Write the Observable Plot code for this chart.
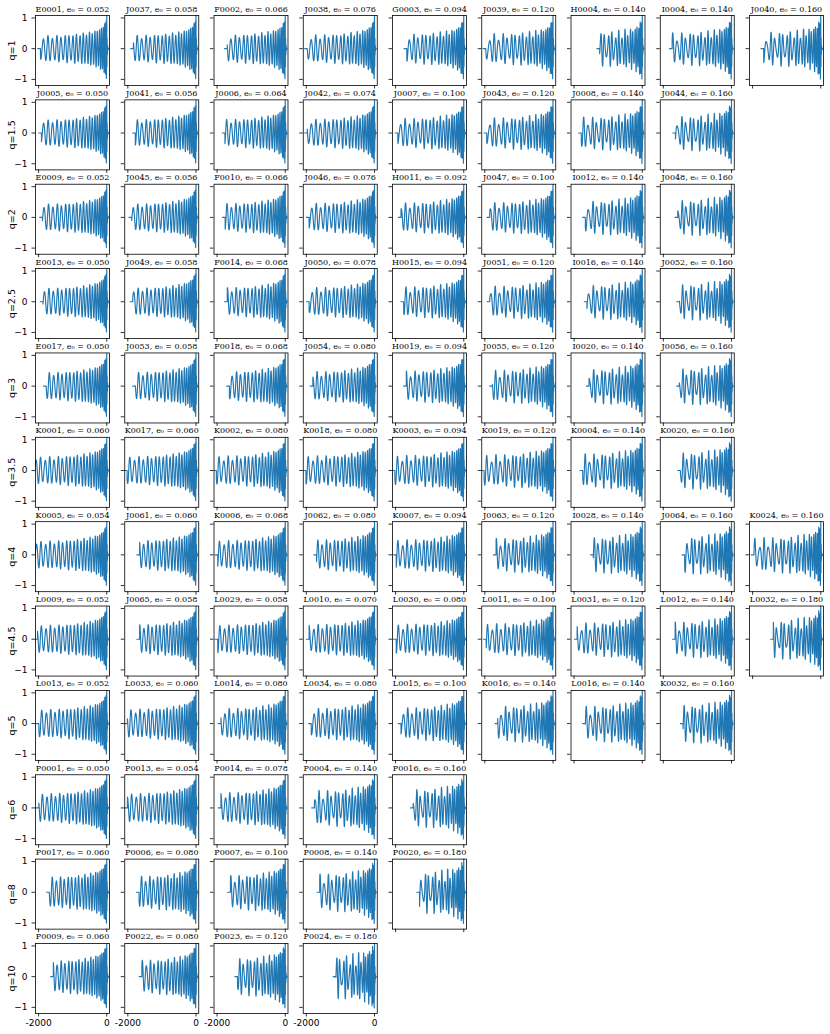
<!DOCTYPE html>
<html>
<head>
<meta charset="utf-8">
<script src="https://cdn.jsdelivr.net/npm/d3@7"></script>
<script src="https://cdn.jsdelivr.net/npm/@observablehq/plot@0.6"></script>
<style>
  html, body { margin: 0; padding: 0; background: #fff; }
  #chart svg { display: block; }
</style>
</head>
<body>
<div id="chart"></div>
<script>
// ---- data ----
const massRatios = ["1", "1.5", "2", "2.5", "3", "3.5", "4", "4.5", "5", "6", "8", "10"];

const simIds = [
  ["E0001", "J0037", "F0002", "J0038", "G0003", "J0039", "H0004", "I0004", "J0040"],
  ["J0005", "J0041", "J0006", "J0042", "J0007", "J0043", "J0008", "J0044"],
  ["E0009", "J0045", "F0010", "J0046", "H0011", "J0047", "I0012", "J0048"],
  ["E0013", "J0049", "F0014", "J0050", "H0015", "J0051", "I0016", "J0052"],
  ["E0017", "J0053", "F0018", "J0054", "H0019", "J0055", "I0020", "J0056"],
  ["K0001", "K0017", "K0002", "K0018", "K0003", "K0019", "K0004", "K0020"],
  ["K0005", "J0061", "K0006", "J0062", "K0007", "J0063", "I0028", "J0064", "K0024"],
  ["L0009", "J0065", "L0029", "L0010", "L0030", "L0011", "L0031", "L0012", "L0032"],
  ["L0013", "L0033", "L0014", "L0034", "L0015", "K0016", "L0016", "K0032"],
  ["P0001", "P0013", "P0014", "P0004", "P0016"],
  ["P0017", "P0006", "P0007", "P0008", "P0020"],
  ["P0009", "P0022", "P0023", "P0024"]
];

const ecc = [
  [0.052, 0.058, 0.066, 0.076, 0.094, 0.120, 0.140, 0.140, 0.160],
  [0.050, 0.056, 0.064, 0.074, 0.100, 0.120, 0.140, 0.160],
  [0.052, 0.056, 0.066, 0.076, 0.092, 0.100, 0.140, 0.160],
  [0.050, 0.058, 0.068, 0.078, 0.094, 0.120, 0.140, 0.160],
  [0.050, 0.058, 0.068, 0.080, 0.094, 0.120, 0.140, 0.160],
  [0.060, 0.060, 0.080, 0.080, 0.094, 0.120, 0.140, 0.160],
  [0.054, 0.060, 0.068, 0.080, 0.094, 0.120, 0.140, 0.160, 0.160],
  [0.052, 0.058, 0.058, 0.070, 0.080, 0.100, 0.120, 0.140, 0.180],
  [0.052, 0.060, 0.080, 0.080, 0.100, 0.140, 0.140, 0.160],
  [0.050, 0.054, 0.078, 0.140, 0.160],
  [0.060, 0.080, 0.100, 0.140, 0.180],
  [0.060, 0.080, 0.120, 0.180]
];

// time (M) at which each plotted waveform begins
const startTimes = [
  [-2023, -1916, -1780, -2050, -1750, -2050, -1330, -1820, -1753],
  [-1994, -1860, -1849, -2051, -2013, -2023, -1868, -1724],
  [-1966, -1966, -1842, -1997, -1920, -1935, -1749, -1656],
  [-1950, -1935, -1780, -1997, -1842, -1935, -1702, -1610],
  [-1857, -1857, -1718, -1888, -1764, -1857, -1640, -1610],
  [-2200, -2100, -2100, -2090, -2100, -2100, -1826, -1579],
  [-2200, -1733, -2060, -1780, -2060, -1749, -1516, -1454, -2040],
  [-2110, -1733, -2060, -1997, -2060, -2040, -1990, -1733, -1470],
  [-2070, -2090, -1966, -1935, -1920, -1702, -1749, -1501],
  [-2070, -2090, -1966, -1842, -1563],
  [-1764, -1749, -1687, -1687, -1377],
  [-1646, -1666, -1479, -1212]
];

const xTicks = [-2000, 0];
const yTicks = [-1, 0, 1];

// ---- waveform model (eccentric chirp + ringdown) evaluated at each panel's parameters ----
function waveform(q, e0, tStart, push) {
  const eta = q / ((1 + q) * (1 + q));
  const etaPh = 0.25 * Math.pow(eta / 0.25, 0.15);
  const flat = 80;
  const tOsc = tStart + flat;
  const tauOff = 1.9 / etaPh;
  const tauA = 28 * Math.sqrt(0.25 / eta);
  const Phi = tau => -Math.pow(etaPh * (tau + tauOff) / 5, 5 / 8) / etaPh;
  const Phi0 = Phi(0);
  const tau0 = -tOsc;
  for (let t = tStart; t <= 75; t += 1) {
    let h;
    if (t < tOsc) h = 0;
    else if (t <= 0) {
      const tau = -t;
      const orb = Phi(tau) - Phi0;
      const e = e0 * Math.pow((tau + tauOff) / (tau0 + tauOff), 0.4);
      const l = 0.9 * orb;
      const A = 1.05 * Math.pow((tau + tauA) / tauA, -0.25) * (1 + 2.8 * e * Math.cos(l));
      h = A * Math.cos(2 * (orb + 2 * e * Math.sin(l)));
    } else {
      h = 1.05 * Math.exp(-t / 10) * Math.cos(0.55 * t);
    }
    push(t, h);
  }
}

const T = [], H = [], Z = [], FX = [], FY = [];
const panels = [];
simIds.forEach((row, r) => row.forEach((id, c) => {
  const e0 = ecc[r][c];
  panels.push({row: r, col: c, title: `${id}, e₀ = ${e0.toFixed(3)}`});
  waveform(+massRatios[r], e0, startTimes[r][c], (t, h) => {
    T.push(t); H.push(h); Z.push(id); FX.push(c); FY.push(r);
  });
}));

// x tick labels only under the panels of the last row
const lastRow = simIds.length - 1;
const xLabels = simIds[lastRow].flatMap((id, c) => xTicks.map(tick => ({tick, col: c, row: lastRow})));

const chart = Plot.plot({
  width: 830,
  height: 1034,
  marginLeft: 35,
  marginRight: 7,
  marginTop: 15,
  marginBottom: 21,
  style: {background: "#fff", fontFamily: "DejaVu Sans", fontSize: "9px", color: "#000"},
  fx: {domain: d3.range(9), paddingInner: 0.171, paddingOuter: 0, round: false, axis: null},
  fy: {domain: d3.range(12), paddingInner: 0.17, paddingOuter: 0, round: false, axis: null},
  x: {domain: [-2090, 80]},
  y: {domain: [-1.2, 1.08]},
  marks: [
    Plot.line({length: T.length}, {
      x: T, y: H, z: Z, fx: FX, fy: FY,
      stroke: "#1f77b4", strokeWidth: 1.15, clip: true
    }),
    Plot.frame({stroke: "#000", strokeWidth: 0.8}),
    Plot.axisX({ticks: xTicks, tickSize: 3.5, fill: "none", strokeWidth: 0.8, facetAnchor: null}),
    Plot.axisY({ticks: yTicks, tickSize: 3.5, fill: "none", strokeWidth: 0.8, facetAnchor: null}),
    Plot.axisY({ticks: yTicks, tickSize: 3.5, tickPadding: 4.5, stroke: "none", facetAnchor: "left",
      tickFormat: d3.format("d"), label: null, fontSize: 9}),
    Plot.text(xLabels, {
      x: "tick", fx: "col", fy: "row", text: d => String(d.tick),
      frameAnchor: "bottom", lineAnchor: "top", dy: 6, fontSize: 9
    }),
    Plot.text(panels, {
      fx: "col", fy: "row", text: "title",
      frameAnchor: "top", lineAnchor: "bottom", dy: -4,
      fontFamily: "DejaVu Serif", fontSize: 8, ariaLabel: "panel-title"
    }),
    Plot.text(massRatios, {
      fx: () => 0, fy: (d, i) => i, text: d => `q=${d}`,
      frameAnchor: "left", textAnchor: "middle", rotate: -90, dx: -24, fontSize: 9.5
    })
  ]
});

// typeset "e₀" as italic e with a subscript 0, like the reference's math text
d3.select(chart).selectAll('g[aria-label="panel-title"] text').each(function () {
  const s = this.textContent;
  const parts = s.split("e₀");
  if (parts.length !== 2) return;
  const t = d3.select(this);
  t.text(null);
  t.append("tspan").text(parts[0]);
  t.append("tspan").attr("font-style", "italic").text("e");
  t.append("tspan").attr("font-size", "5.6").attr("dy", "1.9").text("0");
  t.append("tspan").attr("dy", "-1.9").text(parts[1]);
});

document.getElementById("chart").appendChild(chart);
</script>
</body>
</html>
